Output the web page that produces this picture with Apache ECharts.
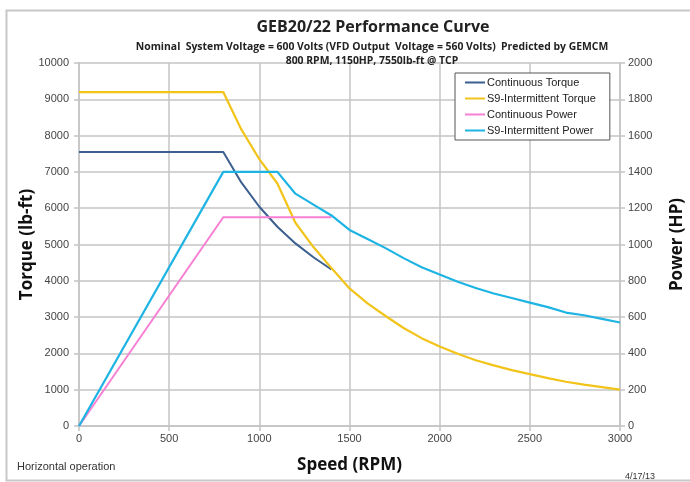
<!DOCTYPE html>
<html>
<head>
<meta charset="utf-8">
<script src="https://cdn.jsdelivr.net/npm/echarts@6/dist/echarts.min.js"></script>
<style>
  html, body { margin: 0; padding: 0; background: #fff; }
  #chart { width: 690px; height: 482px; }
</style>
</head>
<body>
<div id="chart"></div>
<script>
// speeds (RPM)
const speedContTorque = [0, 800, 900, 1000, 1100, 1200, 1300, 1400]
const contTorque = [7550, 7550, 6710, 6040, 5490, 5030, 4650, 4310]

const speedS9 = [0, 800, 900, 1000, 1100, 1200, 1300, 1400, 1500, 1600, 1700, 1800,
  1900, 2000, 2100, 2200, 2300, 2400, 2500, 2600, 2700, 2800, 2900, 3000]
const s9Torque = [9200, 9200, 8170, 7350, 6680, 5600, 4930, 4350, 3790, 3380, 3030, 2700,
  2420, 2190, 1990, 1810, 1670, 1540, 1430, 1320, 1220, 1140, 1070, 1000]
const s9Power = [0, 1400, 1400, 1400, 1400, 1280, 1220, 1160, 1080, 1030, 980, 925,
  875, 835, 795, 760, 730, 705, 680, 655, 625, 610, 590, 570]

const speedContPower = [0, 800, 1400]
const contPower = [0, 1150, 1150]

const zip = (xs, ys) => xs.map((x, i) => [x, ys[i]])
const plain = (v) => String(v)

const chart = echarts.init(document.getElementById('chart'))
const gridColor = '#c4c4c4'
const headFont = "'Open Sans', sans-serif"

chart.setOption({
  backgroundColor: '#fff',
  animation: false,
  title: [
    { text: 'GEB20/22 Performance Curve', left: 368, top: 14, textAlign: 'center',
      textStyle: { fontFamily: headFont, fontSize: 16, fontWeight: 'bold', color: '#222' } },
    { text: 'Nominal  System Voltage = 600 Volts (VFD Output  Voltage = 560 Volts)  Predicted by GEMCM',
      left: 367, top: 37, textAlign: 'center',
      textStyle: { fontFamily: headFont, fontSize: 10.4, fontWeight: 'bold', color: '#222' } },
    { text: '800 RPM, 1150HP, 7550lb-ft @ TCP', left: 367, top: 51, textAlign: 'center',
      textStyle: { fontFamily: headFont, fontSize: 10.4, fontWeight: 'bold', color: '#222' } },
    { text: 'Horizontal operation', left: 12, top: 456,
      textStyle: { fontFamily: 'Liberation Sans', fontSize: 11, fontWeight: 'normal', color: '#333' } },
    { text: '4/17/13', left: 620, top: 467,
      textStyle: { fontFamily: 'Liberation Sans', fontSize: 9, fontWeight: 'normal', color: '#333' } }
  ],
  graphic: [
    { type: 'rect', left: 4, top: 8, shape: { width: 720, height: 470 },
      style: { fill: 'none', stroke: '#c8c8c8', lineWidth: 2 }, silent: true }
  ],
  legend: {
    orient: 'vertical',
    left: 455, top: 73,
    backgroundColor: '#fff',
    borderColor: '#555', borderWidth: 1,
    padding: [4, 14, 4, 10],
    itemWidth: 20, itemHeight: 2, itemGap: 5,
    icon: 'rect',
    textStyle: { fontFamily: 'Liberation Sans', fontSize: 11, color: '#222', padding: [0, 0, 0, -3] },
    data: ['Continuous Torque', 'S9-Intermittent Torque', 'Continuous Power', 'S9-Intermittent Power']
  },
  grid: { left: 79, right: 70, top: 63, bottom: 56, outerBoundsMode: 'none' },
  xAxis: {
    type: 'value', min: 0, max: 3000, interval: 500,
    name: 'Speed (RPM)', nameLocation: 'middle', nameGap: 31, nameMoveOverlap: false,
    nameTextStyle: { fontFamily: headFont, fontSize: 17, fontWeight: 'bold', color: '#111' },
    axisLine: { lineStyle: { color: gridColor, width: 1.5 } },
    axisTick: { show: true, length: 5, lineStyle: { color: gridColor, width: 1.5 } },
    axisLabel: { color: '#444', fontFamily: 'Liberation Sans', fontSize: 11, margin: 7, formatter: plain },
    splitLine: { lineStyle: { color: gridColor, width: 1.5 } }
  },
  yAxis: [
    {
      type: 'value', min: 0, max: 10000, interval: 1000,
      name: 'Torque (lb-ft)', nameLocation: 'middle', nameGap: 43, nameMoveOverlap: false,
      nameTextStyle: { fontFamily: headFont, fontSize: 17, fontWeight: 'bold', color: '#111' },
      axisLine: { show: true, lineStyle: { color: gridColor, width: 1.5 } },
      axisTick: { show: true, length: 5, lineStyle: { color: gridColor, width: 1.5 } },
      axisLabel: { color: '#444', fontFamily: 'Liberation Sans', fontSize: 11, margin: 10, formatter: plain },
      splitLine: { lineStyle: { color: gridColor, width: 1.5 } }
    },
    {
      type: 'value', min: 0, max: 2000, interval: 200,
      name: 'Power (HP)', nameLocation: 'middle', nameGap: 49, nameMoveOverlap: false,
      nameTextStyle: { fontFamily: headFont, fontSize: 17, fontWeight: 'bold', color: '#111' },
      axisLine: { show: true, lineStyle: { color: gridColor, width: 1.5 } },
      axisTick: { show: true, length: 5, lineStyle: { color: gridColor, width: 1.5 } },
      axisLabel: { color: '#444', fontFamily: 'Liberation Sans', fontSize: 11, margin: 8, formatter: plain },
      splitLine: { show: false }
    }
  ],
  series: [
    { name: 'Continuous Torque', type: 'line', yAxisIndex: 0, showSymbol: false,
      data: zip(speedContTorque, contTorque), itemStyle: { color: '#3b5f8e' },
      lineStyle: { color: '#3b5f8e', width: 2 } },
    { name: 'S9-Intermittent Torque', type: 'line', yAxisIndex: 0, showSymbol: false,
      data: zip(speedS9, s9Torque), itemStyle: { color: '#f2c41a' },
      lineStyle: { color: '#f2c41a', width: 2.2 } },
    { name: 'Continuous Power', type: 'line', yAxisIndex: 1, showSymbol: false,
      data: zip(speedContPower, contPower), itemStyle: { color: '#f77fd4' },
      lineStyle: { color: '#f77fd4', width: 2 } },
    { name: 'S9-Intermittent Power', type: 'line', yAxisIndex: 1, showSymbol: false,
      data: zip(speedS9, s9Power), itemStyle: { color: '#1db4e4' },
      lineStyle: { color: '#1db4e4', width: 2.2 } }
  ]
})
</script>
</body>
</html>
